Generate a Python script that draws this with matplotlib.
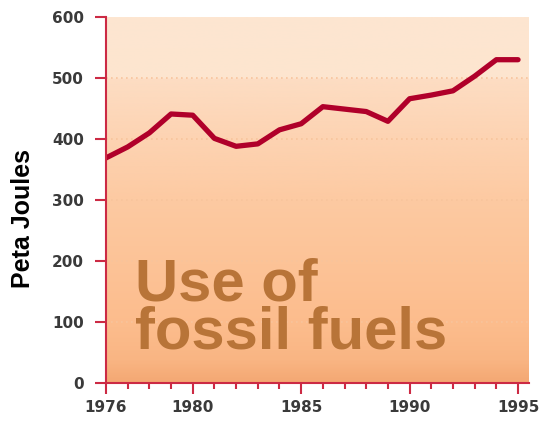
import numpy as np
import matplotlib
matplotlib.use("Agg")
import matplotlib.pyplot as plt
from matplotlib.colors import LinearSegmentedColormap

years = [1976, 1977, 1978, 1979, 1980, 1981, 1982, 1983, 1984, 1985,
         1986, 1987, 1988, 1989, 1990, 1991, 1992, 1993, 1994, 1995]
energy = [369, 387, 410, 441, 439, 401, 388, 392, 415, 425,
          453, 449, 445, 429, 466, 472, 479, 503, 530, 530]
major_years = [1976, 1980, 1985, 1990, 1995]
y_ticks = [0, 100, 200, 300, 400, 500, 600]

red = "#cc2a44"
line_red = "#b0002a"

fig = plt.figure(figsize=(5.43, 4.23), dpi=100)
ax = fig.add_axes([0.1952, 0.0946, 0.7788, 0.8652])

# peach background, lighter at the top and darker toward zero
bg = LinearSegmentedColormap.from_list("peach", [
    (0.0, "#f4a873"), (0.06, "#f9b583"), (0.15, "#fcbc8c"),
    (0.5, "#fdcaa2"), (0.666, "#fdd3b2"), (0.833, "#fdddc3"),
    (0.834, "#fde5cf"), (1.0, "#fde6d1")])
grad = np.linspace(0, 1, 600).reshape(-1, 1)
ax.imshow(grad, aspect="auto", cmap=bg, origin="lower",
          extent=[1976, 1995.5, 0, 600], zorder=0)

for g in [100, 200, 300, 400, 500]:
    ax.axhline(g, color="#f8c49c", lw=1.2, ls=(0, (1, 2)), zorder=1)

# multi-line text: baseline refers to the last line here
ax.text(1977.35, 57, "Use of\nfossil fuels", fontsize=43, fontweight="bold",
        family="Liberation Sans", color="#b87438", va="baseline",
        linespacing=0.84, zorder=2)

ax.plot(years, energy, color=line_red, lw=3.8, solid_joinstyle="round",
        solid_capstyle="round", zorder=3)

ax.set_xlim(1976, 1995.5)
ax.set_ylim(0, 600)
ax.set_xticks(major_years)
ax.set_xticks(years, minor=True)
ax.set_yticks(y_ticks)

for s in ["top", "right"]:
    ax.spines[s].set_visible(False)
for s in ["left", "bottom"]:
    ax.spines[s].set_color(red)
    ax.spines[s].set_linewidth(1.5)
    ax.spines[s].set_zorder(4)

ax.tick_params(axis="both", which="major", color=red, width=1.5, length=8,
               labelsize=11, labelcolor="#3a3a3a", pad=4)
ax.tick_params(axis="y", which="major", length=8, pad=8)
ax.tick_params(axis="x", which="minor", color=red, width=1.5, length=4)
for lab in ax.get_xticklabels() + ax.get_yticklabels():
    lab.set_fontweight("bold")

ax.set_ylabel("Peta Joules", fontsize=18, fontweight="bold",
              family="Liberation Sans", color="black")
ax.yaxis.set_label_coords(-0.168, 0.45)

fig.savefig("out.png", dpi=100)
